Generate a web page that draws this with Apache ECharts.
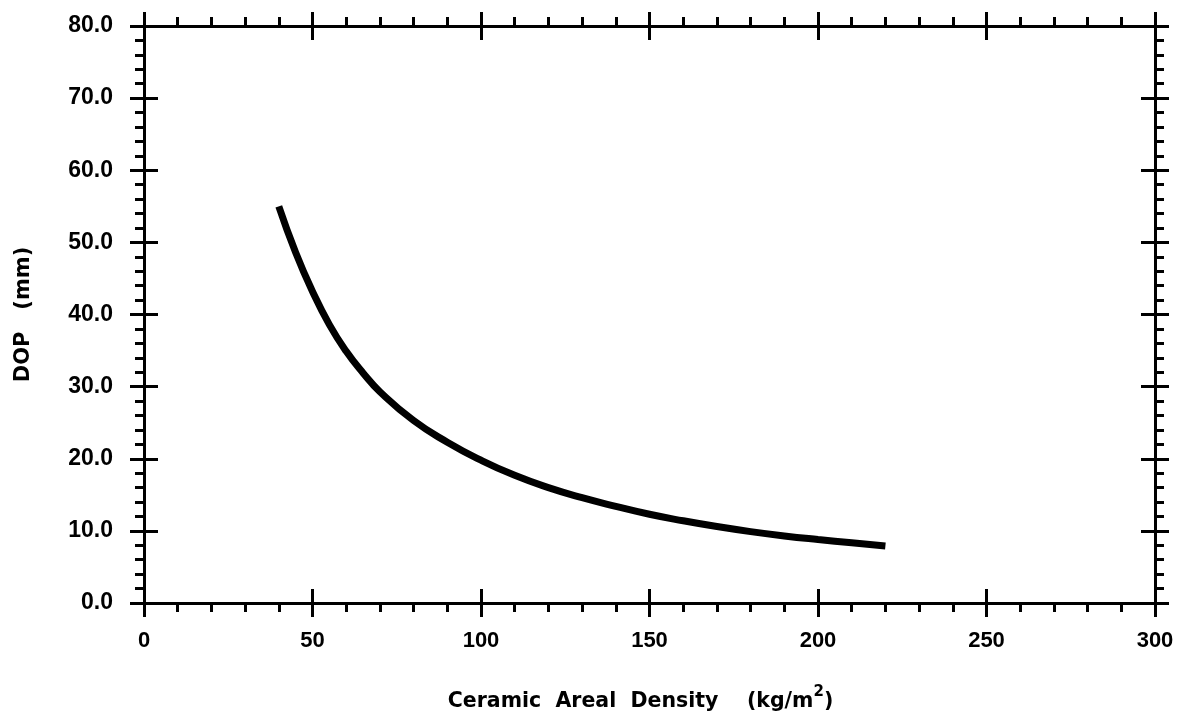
<!DOCTYPE html>
<html>
<head>
<meta charset="utf-8">
<script src="https://cdn.jsdelivr.net/npm/echarts@6/dist/echarts.min.js"></script>
<style>
html,body{margin:0;padding:0;background:#fff;}
#chart{width:1179px;height:719px;}
</style>
</head>
<body>
<div id="chart"></div>
<script>
// Ceramic areal density (kg/m^2)
const densities = [40, 45, 50, 55, 60, 65, 70, 80, 90, 100, 110, 120, 130, 140, 150, 160, 170, 180, 190, 200, 210, 220];
// Depth of penetration (mm)
const dop = [55.0, 48.6, 43.2, 38.6, 34.9, 31.9, 29.3, 25.3, 22.3, 19.8, 17.7, 16.0, 14.6, 13.4, 12.3, 11.4, 10.6, 9.9, 9.3, 8.8, 8.35, 7.9];

const xTicks = [0, 50, 100, 150, 200, 250, 300];
const yTicks = [0, 10, 20, 30, 40, 50, 60, 70, 80];

const xTitle = 'Ceramic  Areal  Density    (kg/m';
const xTitleSup = '2';
const yTitle = 'DOP   (mm)';

const black = '#000';
const lineStyle = { color: black, width: 3 };

function xAxisDef(pos, inside, withLabels, withLine, withMinor) {
  return {
    type: 'value', position: pos, min: xTicks[0], max: xTicks[xTicks.length - 1], interval: 50,
    axisLine: { show: withLine, lineStyle: lineStyle, onZero: false },
    axisTick: { show: true, inside: inside, length: 14, lineStyle: { color: black, width: 3 } },
    minorTick: { show: withMinor, splitNumber: 5, length: 9, lineStyle: { color: black, width: 3 } },
    splitLine: { show: false },
    axisLabel: withLabels ? { show: true, margin: 27, color: black, fontFamily: 'Liberation Sans', fontWeight: 'bold', fontSize: 22 } : { show: false },
  };
}
function yAxisDef(pos, inside, withLabels, withLine, withMinor) {
  return {
    type: 'value', position: pos, min: yTicks[0], max: yTicks[yTicks.length - 1], interval: 10,
    axisLine: { show: withLine, lineStyle: lineStyle, onZero: false },
    axisTick: { show: true, inside: inside, length: 14, lineStyle: { color: black, width: 3 } },
    minorTick: { show: withMinor, splitNumber: 5, length: 9, lineStyle: { color: black, width: 3 } },
    splitLine: { show: false },
    axisLabel: withLabels ? { show: true, margin: 31, color: black, fontFamily: 'Liberation Sans', fontWeight: 'bold', fontSize: 23, formatter: v => v.toFixed(1) } : { show: false },
  };
}

const xMain = xAxisDef('bottom', false, true, true, true);
xMain.name = '{m|' + xTitle + '}{s|' + xTitleSup + '}{m|)}';
xMain.nameLocation = 'middle';
xMain.nameGap = 70;
xMain.nameTextStyle = {
  color: black,
  padding: [0, 18, 0, 0],
  rich: {
    m: { fontFamily: 'DejaVu Sans', fontWeight: 'bold', fontSize: 20.5, lineHeight: 21, verticalAlign: 'bottom', color: black },
    s: { fontFamily: 'DejaVu Sans', fontWeight: 'bold', fontSize: 15, lineHeight: 39, color: black }
  }
};

const yMain = yAxisDef('left', false, true, true, true);
yMain.name = yTitle;
yMain.nameLocation = 'middle';
yMain.nameGap = 110;
yMain.nameTextStyle = { color: black, fontFamily: 'DejaVu Sans', fontWeight: 'bold', fontSize: 21 };

const option = {
  animation: false,
  backgroundColor: '#fff',
  grid: { left: 144, right: 24, top: 26, bottom: 116 },
  xAxis: [
    xMain,
    xAxisDef('bottom', true, false, false, false),
    xAxisDef('top', false, false, true, true),
    xAxisDef('top', true, false, false, false)
  ],
  yAxis: [
    yMain,
    yAxisDef('left', true, false, false, false),
    yAxisDef('right', false, false, true, true),
    yAxisDef('right', true, false, false, false)
  ],
  series: [{
    type: 'line',
    xAxisIndex: 0, yAxisIndex: 0,
    data: densities.map((d, i) => [d, dop[i]]),
    smooth: 0.5,
    showSymbol: false,
    symbol: 'none',
    lineStyle: { color: black, width: 7, cap: 'butt' }
  }]
};

const chart = echarts.init(document.getElementById('chart'));
chart.setOption(option);
</script>
</body>
</html>
